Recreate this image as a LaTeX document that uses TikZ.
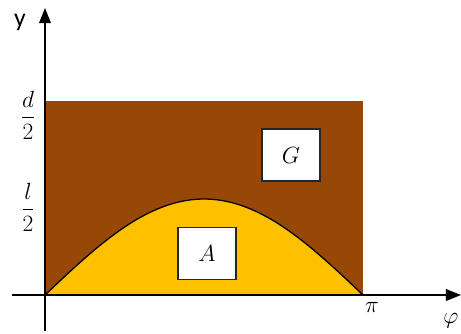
\documentclass[tikz,border=0pt]{standalone}
\usepackage{fix-cm}
\usepackage{amsmath}
\usepackage{fontspec}
\newfontfamily\labelfont{Carlito}
\usetikzlibrary{arrows.meta}
\definecolor{gbrown}{HTML}{984806}
\definecolor{ayellow}{HTML}{FFC000}
\tikzset{
	axis/.style={line width=1.5pt,-{Triangle[length=13pt,width=10pt]}},
	mathlab/.style={font=\fontsize{20}{24}\selectfont},
	areabox/.style={draw=black!85,line width=1.3pt,fill=white,minimum width=1.74cm,minimum height=1.56cm,mathlab}
}

\begin{document}
\begin{tikzpicture}[x=0.03cm,y=-0.03cm]
	\useasboundingbox (0,0) rectangle (461,333);
	\fill[gbrown] (45,101) rectangle (363,295);
	\fill[ayellow] (45,295) -- plot[domain=0:180,samples=60] ({45+1.76667*\x},{295-96*sin(\x)}) -- cycle;
	\draw[line width=1.1pt] plot[domain=0:180,samples=60] ({45+1.76667*\x},{295-96*sin(\x)});
	\node[areabox] at (291,155) (G) {$G$};
	\node[areabox] at (207,253.5) (A) {$A$};
	\coordinate (O) at (45,295);
	\coordinate (ytop) at (45,8);
	\coordinate (ybot) at (45,331);
	\coordinate (xleft) at (12,295);
	\coordinate (xright) at (461,295);
	\draw[axis] (ybot) -- (ytop);
	\draw[axis] (xleft) -- (xright);
	\node at (20,22) (ylab) {\labelfont\fontsize{22}{26}\selectfont y};
	\node[mathlab] at (28,115) (dlab) {$\dfrac{d}{2}$};
	\node[mathlab] at (28,207) (llab) {$\dfrac{l}{2}$};
	\node[mathlab] at (372,307) (pilab) {$\pi$};
	\node[mathlab] at (451,321) (philab) {$\varphi$};
\end{tikzpicture}
\end{document}
